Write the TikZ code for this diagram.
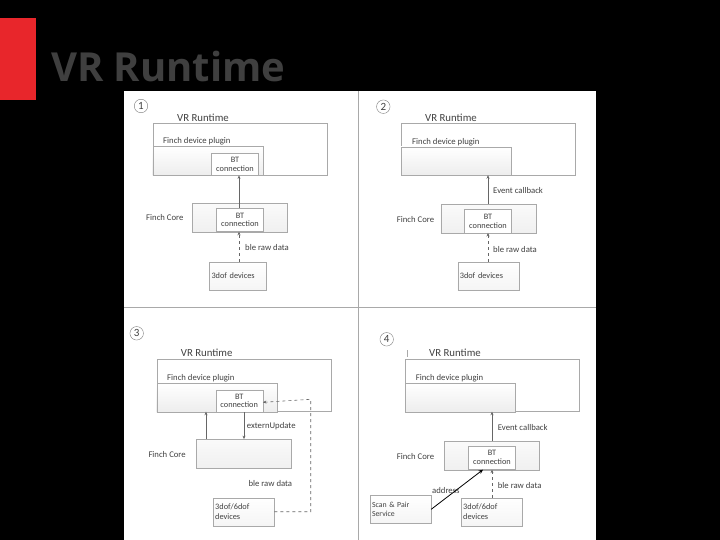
\documentclass[tikz,border=0pt]{standalone}
\usepackage{fontspec}
\setmainfont{Carlito}
\newfontfamily\titlefont{Open Sans}
\usetikzlibrary{arrows.meta, positioning, calc}
\definecolor{SlideRed}{HTML}{E8262B}
\definecolor{TitleGray}{HTML}{3F3F3F}
\definecolor{LineGray}{HTML}{A9A9A9}
\definecolor{ArrowGray}{HTML}{666666}
\definecolor{TextGray}{HTML}{404040}
\tikzset{
  vrbox/.style={draw=LineGray, fill=white, minimum width=174pt, minimum height=52pt},
  plugbox/.style={draw=LineGray, top color=white, bottom color=gray!14, minimum width=110pt, minimum height=29pt},
  btbox/.style={draw=LineGray, fill=white, align=center, font=\fontsize{8.3}{8.8}\selectfont,
    text=TextGray, inner sep=1pt, minimum width=47pt, minimum height=22pt},
  corebox/.style={draw=LineGray, top color=gray!4, bottom color=gray!12, minimum width=95pt, minimum height=29pt},
  devbox/.style={draw=LineGray, top color=white, bottom color=gray!8, align=left, text width=#1,
    inner xsep=2pt, font=\fontsize{8.3}{9.8}\selectfont, text=TextGray, minimum height=28pt},
  lbl/.style={anchor=west, inner sep=0pt, text=TextGray, font=\fontsize{8.7}{9}\selectfont},
  big/.style={anchor=west, inner sep=0pt, text=TextGray, font=\fontsize{10.8}{11}\selectfont},
  num/.style={draw=gray, circle, minimum size=13.5pt, inner sep=0pt, text=TextGray,
    font=\fontsize{11}{11}\selectfont},
  flow/.style={-{Stealth[length=3.5pt, width=3pt]}, semithick, draw=ArrowGray},
  dflow/.style={-{Stealth[length=3.5pt, width=3pt]}, semithick, draw=ArrowGray, dashed},
}
\begin{document}
\begin{tikzpicture}[x=1pt, y=-1pt]
  % slide background
  \fill[black] (0,0) rectangle (720,540);
  \useasboundingbox (0,0) rectangle (720,540);
  \fill[SlideRed] (0,18) rectangle (36,100);
  \node[anchor=west, inner sep=0pt, text=TitleGray, font=\titlefont\bfseries\fontsize{40}{40}\selectfont]
    (title) at (51,67) {VR Runtime};
  \fill[white] (124,91) rectangle (596,540);
  \draw[LineGray, thick] (358,91) -- (358,540);
  \draw[LineGray, thick] (124,307) -- (596,307);

  % panel 1
  \node[num] (n1) at (141,106) {1};
  \node[big] (t1) at (177,118) {VR Runtime};
  \node[vrbox] (vr1) at (240,149.3) {};
  \node[lbl] (p1) at (163,141.7) {Finch device plugin};
  \node[plugbox] (plug1) at (207.7,161) {};
  \node[btbox] (bt1) at (235,164.2) {BT\\connection};
  \node[corebox] (core1) at (240,218) {};
  \node[btbox, minimum height=23.5pt] (cbt1) at (240,219.8) {BT\\connection};
  \node[lbl] (c1) at (146,218) {Finch Core};
  \node[devbox=53pt] (dev1) at (238,275.8) {3dof devices};
  \node[lbl] (r1) at (245,248) {ble raw data};
  \draw[flow] ([xshift=-1pt]cbt1.north) -- ([xshift=-1pt]cbt1.north |- bt1.south);
  \draw[dflow] ([xshift=-1pt]cbt1.south |- dev1.north) -- ([xshift=-1pt]cbt1.south);

  % panel 2
  \node[num] (n2) at (383.3,106.7) {2};
  \node[big] (t2) at (425,118) {VR Runtime};
  \node[vrbox] (vr2) at (488,149) {};
  \node[lbl] (p2) at (412,142.3) {Finch device plugin};
  \node[plugbox, minimum height=28pt] (plug2) at (456,161) {};
  \node[corebox] (core2) at (488.3,219) {};
  \node[btbox, minimum height=23.5pt] (cbt2) at (488,221) {BT\\connection};
  \node[lbl] (c2) at (396.7,219.3) {Finch Core};
  \node[devbox=57pt] (dev2) at (488.3,276) {3dof devices};
  \node[lbl] (e2) at (493,190.7) {Event callback};
  \node[lbl] (r2) at (493,250) {ble raw data};
  \draw[flow] (cbt2.north |- core2.north) -- (cbt2.north |- vr2.south);
  \draw[dflow] (cbt2.south |- dev2.north) -- (cbt2.south);

  % panel 3
  \node[num] (n3) at (136.7,333.3) {3};
  \node[big] (t3) at (180.7,353.3) {VR Runtime};
  \node[vrbox] (vr3) at (243.7,385.5) {};
  \node[lbl] (p3) at (167,378.3) {Finch device plugin};
  \node[plugbox, minimum width=120.6pt] (plug3) at (217,397.5) {};
  \node[btbox] (bt3) at (239.2,400.8) {BT\\connection};
  \node[corebox] (core3) at (243.8,453.8) {};
  \node[lbl] (c3) at (148.3,454.3) {Finch Core};
  \node[devbox=57pt] (dev3) at (243.7,511.7) {3dof/6dof\\devices};
  \node[lbl] (u3) at (246.7,426) {externUpdate};
  \node[lbl] (r3) at (248.3,484) {ble raw data};
  \coordinate (k3) at (310.7,399.3);
  \draw[flow] ([xshift=-37.8pt]core3.north) -- ([xshift=-37.8pt]core3.north |- vr3.south);
  \draw[flow] ([xshift=4.8pt]bt3.south) -- ([xshift=4.8pt]bt3.south |- core3.north);
  \draw[dflow] (dev3.east) -| (k3) -- ([yshift=-1.5pt]bt3.east);

  % panel 4
  \node[num] (n4) at (386.7,339.3) {4};
  \draw[LineGray] (406.7,350) -- (406.7,356.7);
  \node[big] (t4) at (429,353.3) {VR Runtime};
  \node[vrbox] (vr4) at (492,385.5) {};
  \node[lbl] (p4) at (415.7,378.3) {Finch device plugin};
  \node[plugbox] (plug4) at (460,397.5) {};
  \node[corebox] (core4) at (491.7,455.8) {};
  \node[btbox, minimum height=23.5pt] (cbt4) at (492,457.7) {BT\\connection};
  \node[lbl] (c4) at (396.7,456.7) {Finch Core};
  \node[devbox=57pt] (dev4) at (491.7,511.7) {3dof/6dof\\devices};
  \node[devbox=57pt, font=\fontsize{7.8}{8.8}\selectfont] (scan4) at (400.5,509.3) {Scan \& Pair\\Service};
  \node[lbl] (e4) at (497.7,427.3) {Event callback};
  \node[lbl] (r4) at (497.7,485.7) {ble raw data};
  \node[lbl] (a4) at (432,490.7) {address};
  \draw[-{Stealth[length=4.5pt, width=4pt]}, thick, black] (scan4.east) -- ([xshift=-9pt]cbt4.south);
  \draw[flow] (cbt4.north |- core4.north) -- (cbt4.north |- vr4.south);
  \draw[dflow] (cbt4.south |- dev4.north) -- (cbt4.south);
\end{tikzpicture}
\end{document}
